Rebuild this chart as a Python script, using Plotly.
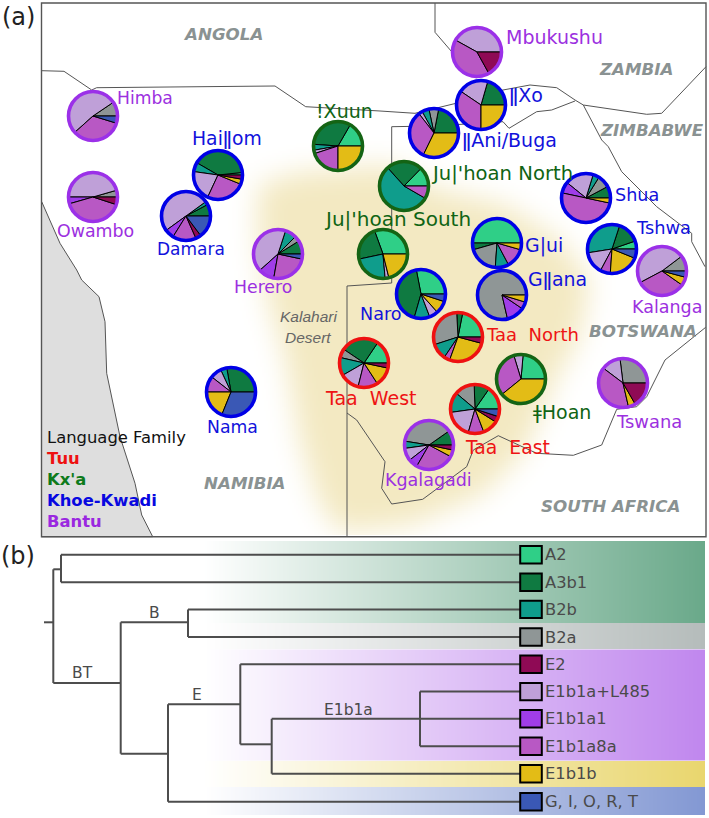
import numpy as np
import plotly.graph_objects as go

W, H = 709, 818

# ---------- data ----------
haplogroups = ["A2", "A3b1", "B2a", "B2b", "E1b1a+L485", "E1b1a1", "E1b1a8a", "E1b1b", "E2", "G, I, O, R, T"]
hap_colors = ["#2fcf87", "#0f7a41", "#8f9696", "#0f9d8c", "#bfa0d8", "#a03de8", "#b858c4", "#e3bc16", "#8f0a55", "#3a58b5"]

#          A2  A3b1 B2a B2b L485 a1  a8a  1b   E2  G
himba     = [0,   0,  34,  0, 188,  0, 121,   0,  0, 17]
owambo    = [0,   0,  16,  0, 164, 16, 146,   0, 18,  0]
hailom    = [6, 144,   0, 22,  73,  0,  93,  12, 10,  0]
damara    = [0,  28,   0,  8, 180, 22,  56,   0, 13, 53]
xuun      = [60, 116,  0, 14,   8,  0,  72,  90,  0,  0]
herero    = [0,  32,  13, 27, 150, 38,  88,   0,  0, 12]
mbukushu  = [0,   0,   0,  0, 151,  0, 148,   0, 61,  0]
xo        = [0,  74,   0,  0,  72,  0, 124,  90,  0,  0]
ani_buga  = [0,  79,  23, 17,   9,  0, 116, 116,  0,  0]
juh_north = [46, 86,   0, 198,  0,  0,  30,   0,  0,  0]
shua      = [0,  28,  30, 15,  68, 27, 180,  12,  0,  0]
gui       = [180, 16, 70, 32,   0,  0,  46,  16,  0,  0]
gllana    = [0,   0, 283,  0,   0, 43,  17,  17,  0,  0]
tshwa     = [19, 53,   0, 117, 53,  0,  24,  72,  0, 22]
kalanga   = [0,   0,  37,  0, 171,  0, 117,  20,  0, 15]
juh_south = [110, 82,  0, 83,   9,  0,   0,  76,  0,  0]
naro      = [101, 153, 0, 37,  21,  0,   0,  30,  0, 18]
taa_west  = [56, 90,  21, 43,  46,  0,  47,  45, 12,  0]
taa_north = [79, 14, 105, 38,   0,  0,  14,  95, 15,  0]
hoan      = [85,  0,   0,  0,  22,  0, 112, 141,  0,  0]
taa_east  = [55, 37,  48, 48,  66,  0,  37,  37, 14, 18]
kgalagadi = [0,  35, 136, 17,  30, 22,  92,  16, 12,  0]
tswana    = [0,   0,  97,  0,  46,  0, 140,  17, 60,  0]
nama      = [0, 100,   0, 15,  27,  0,  38,  68,  0, 112]

populations = ["Himba", "Owambo", "Haiǁom", "Damara", "!Xuun", "Herero", "Mbukushu", "ǁXo", "ǁAni/Buga",
               "Ju|'hoan North", "Shua", "G|ui", "Gǁana", "Tshwa", "Kalanga", "Ju|'hoan South", "Naro",
               "Taa  West", "Taa  North", "ǂHoan", "Taa  East", "Kgalagadi", "Tswana", "Nama"]
pop_values = [himba, owambo, hailom, damara, xuun, herero, mbukushu, xo, ani_buga, juh_north, shua, gui, gllana,
              tshwa, kalanga, juh_south, naro, taa_west, taa_north, hoan, taa_east, kgalagadi, tswana, nama]
pop_family = ["Bantu", "Bantu", "Khoe-Kwadi", "Khoe-Kwadi", "Kx'a", "Bantu", "Bantu", "Khoe-Kwadi", "Khoe-Kwadi",
              "Kx'a", "Khoe-Kwadi", "Khoe-Kwadi", "Khoe-Kwadi", "Khoe-Kwadi", "Bantu", "Kx'a", "Khoe-Kwadi",
              "Tuu", "Tuu", "Kx'a", "Tuu", "Bantu", "Bantu", "Khoe-Kwadi"]
families = ["Tuu", "Kx'a", "Khoe-Kwadi", "Bantu"]
countries = ["ANGOLA", "ZAMBIA", "ZIMBABWE", "BOTSWANA", "NAMIBIA", "SOUTH AFRICA"]

# ---------- layout positions (pixels) ----------
pie_xy = [(93,116),(93,197),(218,175),(186,216),(338,146),(278,254),(477,52),(481,105),(434,133),(404,186),
          (586,198),(497,243),(502,295),(612,249),(662,271),(383,254),(421,294),(364,363),(458,337),(521,379),
          (475,409),(429,445),(623,383),(231,392)]
label_xy = [(145,98),(95,231),(227,138),(191,249),(344,111),(263,287),(554,37),(526,95),(509,140),(502,173),
            (637,195),(544,245),(557,279),(663,227),(667,307),(397,219),(381,314),(371,398),(532,334),(562,412),
            (507,447),(428,480),(649,421),(232,427)]
label_size = [17.2,17.4,18.8,17,19,17.3,19,19,19,19.6,17.6,18.9,18.9,17.8,17.5,20,17.6,19,18,19,18.8,17.5,17.9,17.3]
country_xy = [(223,34),(636,69),(652,130),(643,331),(245,483),(610,506)]
fam_text = {"Tuu": "#ee1414", "Kx'a": "#0f6414", "Khoe-Kwadi": "#1212dc", "Bantu": "#9c30e0"}
fam_ring = {"Tuu": "#ee1111", "Kx'a": "#146414", "Khoe-Kwadi": "#0000e6", "Bantu": "#9b30e8"}
legend_col = {"Tuu": "#ee1111", "Kx'a": "#0d7a1a", "Khoe-Kwadi": "#0808e0", "Bantu": "#9a28e0"}

border_lines = [
    [(41.7,70.7),(64,71.3),(91.7,90),(96.7,87.7),(275,86),(305.7,106.7),(380,111),(415,113.3),(456,103.3),(503,90),
     (530,85),(556.7,87.7),(575,100),(583.3,105),(646.7,114.3),(661.7,113.3),(706,66.7)],
    [(435,3),(435,32.3),(451.7,51.7),(476,78.3)],
    [(347,536.7),(347,286),(391.7,283),(391.7,126.7),(434,126),(503,121.7),(509,128.3),(536.7,111.7),(551.7,110),(575,101)],
    [(583.3,105),(601.7,140),(608.3,146.7),(621.7,171.7),(656.7,206.7),(691.7,233.3),(691.7,241.7),(705,266.7)],
    [(705.7,327.3),(665,360),(646.7,396.7),(636.7,406.7),(616.7,409.3),(601.7,445),(573.3,455.3),(536.7,453.3),
     (498.3,435.7),(473.3,450),(466.7,466.7),(422.7,499.3),(391.7,504),(381.7,488.3),(385,461.7),(356.7,420),(347,413)],
]
ocean = [(41.7,201.7),(60,243.3),(76.7,270),(81.7,280),(99,296.7),(105,321.7),(106.7,373.3),(120,436.7),(135,483.3),
         (141.7,515),(152.7,536.7),(41.7,536.7)]
desert = [(258,185),(300,172),(390,165),(440,190),(505,205),(560,240),(590,280),(580,335),(555,380),(525,450),
          (480,495),(410,525),(340,532),(318,500),(300,440),(285,355),(268,300),(258,240)]

tip_order = ["A2", "A3b1", "B2b", "B2a", "E2", "E1b1a+L485", "E1b1a1", "E1b1a8a", "E1b1b", "G, I, O, R, T"]
tip_y = [554.7, 582.2, 609.4, 637, 664.2, 691.6, 718.8, 746.2, 773.7, 801.7]
tip_start_x = [61, 61, 188, 188, 240.3, 420, 420, 420, 271.7, 168]
tree_inner = [
    [(44,622.3),(53.3,622.3)], [(53.3,569.3),(53.3,683)], [(53.3,569.3),(61,569.3)], [(61,554.7),(61,582.2)],
    [(53.3,683),(120.7,683)], [(120.7,622.3),(120.7,753.7)], [(120.7,622.3),(188,622.3)], [(188,609.4),(188,637)],
    [(120.7,753.7),(168,753.7)], [(168,704.3),(168,801.7)], [(168,704.3),(240.3,704.3)], [(240.3,664.2),(240.3,744.3)],
    [(240.3,744.3),(271.7,744.3)], [(271.7,718.8),(271.7,773.7)], [(271.7,718.8),(420,718.8)], [(420,691.6),(420,746.2)],
]
node_labels = [("B",154,613),("BT",82,673),("E",197,695),("E1b1a",348,710)]
bands = [(541,622.5,"#6aa98a"),(623,649,"#b5bcbb"),(649.5,760.5,"#c087ee"),(761,786.5,"#e9d66e"),(787,815,"#8398d3")]

# ---------- figure ----------
fig = go.Figure()
ax = dict(xaxis="x", yaxis="y", hoverinfo="skip", showlegend=False)

# desert background: filled outline softened by a box blur
step = 2
gx = np.arange(43, 705, step)
gy = np.arange(4, 536, step)
X, Y = np.meshgrid(gx, gy)
mask = np.zeros_like(X, dtype=bool)
n = len(desert)
for i in range(n):
    x1, y1 = desert[i]
    x2, y2 = desert[(i + 1) % n]
    cond = (y1 > Y) != (y2 > Y)
    with np.errstate(divide="ignore", invalid="ignore"):
        xint = (x2 - x1) * (Y - y1) / (y2 - y1 + 1e-9) + x1
    mask ^= cond & (X < xint)
z = mask.astype(float)
pad = 30
zp = np.pad(z, pad, mode="edge")
kern = np.ones(13) / 13
for _ in range(3):
    zp = np.apply_along_axis(lambda r: np.convolve(r, kern, mode="same"), 0, zp)
    zp = np.apply_along_axis(lambda r: np.convolve(r, kern, mode="same"), 1, zp)
z = np.round(zp[pad:-pad, pad:-pad], 3)
fig.add_trace(go.Heatmap(z=z.tolist(), x0=int(gx[0]), dx=step, y0=int(gy[0]), dy=step, zmin=0, zmax=1,
                         colorscale=[[0, "#ffffff"], [1, "#f3e9c2"]], showscale=False, **ax))

# tree bands
band_x = np.arange(204, 705, 2)
for top, bot, col in bands:
    fig.add_trace(go.Heatmap(z=[(np.round((band_x - 204) / 500, 3)).tolist()], x0=int(band_x[0]), dx=2,
                             y0=(top + bot) / 2, dy=bot - top, zmin=0, zmax=1,
                             colorscale=[[0, "#ffffff"], [1, col]], showscale=False, **ax))

# ocean
fig.add_trace(go.Scatter(x=[p[0] for p in ocean], y=[p[1] for p in ocean], mode="lines", fill="toself",
                         fillcolor="#dedede", line=dict(color="#555555", width=1), **ax))
# borders
bx, by = [], []
for seg in border_lines:
    bx += [p[0] for p in seg] + [None]
    by += [p[1] for p in seg] + [None]
fig.add_trace(go.Scatter(x=bx, y=by, mode="lines", line=dict(color="#555555", width=1), **ax))

# tree
tx, ty = [], []
for seg in tree_inner:
    tx += [seg[0][0], seg[1][0], None]
    ty += [seg[0][1], seg[1][1], None]
for sx, y in zip(tip_start_x, tip_y):
    tx += [sx, 520, None]
    ty += [y, y, None]
fig.add_trace(go.Scatter(x=tx, y=ty, mode="lines", line=dict(color="#4d4d4d", width=2), **ax))

# pies
R = 24.5
shapes = []
for vals, (cx, cy), fam, name in zip(pop_values, pie_xy, pop_family, populations):
    keep = [i for i, v in enumerate(vals) if v > 0]
    kept = [vals[i] for i in keep]
    # plotly's counterclockwise pies place the first slice clockwise of "rotation"
    first = kept[0] * 360 / sum(kept)
    fig.add_trace(go.Pie(values=kept, labels=[haplogroups[i] for i in keep],
                         marker=dict(colors=[hap_colors[i] for i in keep], line=dict(color="#000000", width=1)),
                         sort=False, direction="counterclockwise", rotation=90 - first, textinfo="none",
                         hoverinfo="skip", showlegend=False, name=name,
                         domain=dict(x=[(cx - R) / W, (cx + R) / W], y=[1 - (cy + R) / H, 1 - (cy - R) / H])))
    shapes.append(dict(type="circle", xref="x", yref="y", x0=cx - R, x1=cx + R, y0=cy - R, y1=cy + R,
                       line=dict(color=fam_ring[fam], width=3.6), layer="above"))

# map frame
shapes.append(dict(type="rect", xref="x", yref="y", x0=41.5, x1=706, y0=3, y1=536.7,
                   line=dict(color="#555555", width=1.4), layer="above"))

# tip boxes
for name, y in zip(tip_order, tip_y):
    col = hap_colors[haplogroups.index(name)]
    shapes.append(dict(type="rect", xref="x", yref="y", x0=520.2, x1=541.8, y0=y - 8.7, y1=y + 8.7,
                       fillcolor=col, line=dict(color="#000000", width=2), layer="above"))

ann = []
def T(x, y, text, size, color, family="DejaVu Sans", anchor="center", **kw):
    ann.append(dict(x=x, y=y, xref="x", yref="y", text=text, showarrow=False, xanchor=anchor, yanchor="middle",
                    font=dict(size=size, color=color, family=family), borderpad=0, **kw))

for name, (x, y), fam, sz in zip(populations, label_xy, pop_family, label_size):
    T(x, y, name, sz, fam_text[fam])
for name, (x, y) in zip(countries, country_xy):
    T(x, y, f"<b><i>{name}</i></b>", 16.7, "#8a9292")
T(308, 316, "<i>Kalahari</i>", 15.5, "#666666", family="Liberation Sans")
T(308, 337, "<i>Desert</i>", 15.5, "#666666", family="Liberation Sans")
T(46, 437, "Language Family", 16.4, "#111111", anchor="left")
for fam, y in zip(families, [458, 479, 500, 521]):
    T(46, y, f"<b>{fam}</b>", 16.4, legend_col[fam], anchor="left")
for name, y in zip(tip_order, tip_y):
    T(544, y, name, 16.3, "#4a4a4a", anchor="left")
for text, x, y in node_labels:
    T(x, y, text, 15.5, "#4a4a4a")
T(1, 17, "(a)", 24, "#222222", anchor="left")
T(0, 556, "(b)", 24, "#222222", anchor="left")

fig.update_layout(width=W, height=H, margin=dict(l=0, r=0, t=0, b=0, pad=0), paper_bgcolor="white",
                  plot_bgcolor="white", showlegend=False, shapes=shapes, annotations=ann,
                  xaxis=dict(range=[0, W], visible=False, fixedrange=True, domain=[0, 1]),
                  yaxis=dict(range=[H, 0], visible=False, fixedrange=True, domain=[0, 1]))

fig.write_html("out.html", config={"displayModeBar": False},
               post_script="document.body.style.margin='0';document.documentElement.style.overflow='hidden';")
